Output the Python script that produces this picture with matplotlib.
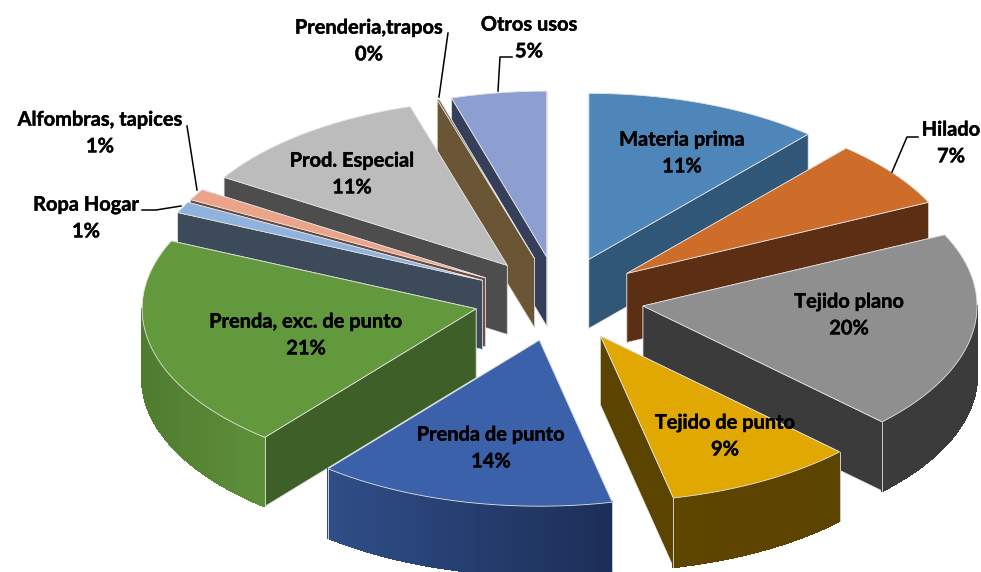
import numpy as np
import matplotlib
matplotlib.use('Agg')
import matplotlib.pyplot as plt
import matplotlib.patheffects as pe
from matplotlib.patches import Polygon
from matplotlib.colors import to_rgb

# datos: clockwise from the top, shares
names = ['Materia prima', 'Hilado', 'Tejido plano', 'Tejido de punto', 'Prenda de punto',
         'Prenda, exc. de punto', 'Ropa Hogar', 'Alfombras, tapices', 'Prod. Especial',
         'Prenderia,trapos', 'Otros usos']
shares = [11.4, 6.55, 19.35, 9.2, 14.4, 20.8, 1.1, 1.1, 11.4, 0.1, 4.6]
pct_labels = ['11%', '7%', '20%', '9%', '14%', '21%', '1%', '1%', '11%', '0%', '5%']

top_colors = ['#4F86B9', '#CE6D29', '#8F8F8F', '#E0A800', '#3A61A9', '#62993C',
              '#8FB3DC', '#EBA487', '#BCBCBC', '#6A5535', '#8D9FD1']
cut_colors = ['#305678', '#5C2F14', '#3B3B3B', '#5B4300', '#2C4A80', '#3E5F27',
              '#3C4A59', '#6D4A3D', '#4D4D4D', '#6A5535', '#353F59']
rim_left = ['#305678', '#5C2F14', '#3B3B3B', '#5E4500', '#2F4E88', '#4F7C30',
            '#3C4A59', '#6D4A3D', '#4D4D4D', '#6A5535', '#353F59']
rim_right = ['#305678', '#5C2F14', '#3B3B3B', '#5B4300', '#1C2E57', '#5E9039',
             '#3C4A59', '#6D4A3D', '#4D4D4D', '#6A5535', '#353F59']

label_pos = [(682, 153), (951, 143), (849, 315), (725, 436), (491, 448), (306, 335),
             (86, 218), (100, 133), (352, 174), (369, 41), (529, 38)]
leaders = [[(892, 172), (907, 137), (918, 137)],
           [(498, 91), (500, 57), (512, 57)],
           [(439, 97), (448, 33)],
           [(197, 190), (187, 126)],
           [(181, 206), (156, 210), (142, 210)]]

# pie geometry in pixels
cx, cy = 559, 299
rx, ry = 334, 166
depth = 69
explode = 0.255
edge = '#E4E4E4'


def point(a, deg):
    t = np.radians(deg)
    return a[0] + rx * np.sin(t), a[1] - ry * np.cos(t)


fig = plt.figure(figsize=(9.81, 5.72), dpi=100)
ax = fig.add_axes([0, 0, 1, 1])
ax.set_xlim(0, 981)
ax.set_ylim(572, 0)
ax.axis('off')

bounds = np.cumsum([0] + shares) / sum(shares) * 360


def back_dist(i):
    d = (bounds[i:i + 2].mean() + 10 + 180) % 360 - 180
    return abs(d)


# back slices first so the front ones cover their walls
for i in sorted(range(len(shares)), key=back_dist):
    a0, a1 = bounds[i], bounds[i + 1]
    mid = np.radians((a0 + a1) / 2)
    apex = (cx + explode * rx * np.sin(mid), cy - explode * ry * np.cos(mid))
    arc = np.linspace(a0, a1, max(int(a1 - a0) * 2, 2))
    rim = [point(apex, a) for a in arc]

    # cut faces
    faces = []
    for p in (rim[0], rim[-1]):
        faces.append([apex, p, (p[0], p[1] + depth), (apex[0], apex[1] + depth)])
    faces.sort(key=lambda f: f[1][1])
    for f in faces:
        ax.add_patch(Polygon(f, closed=True, fc=cut_colors[i], ec=edge, lw=0.5))

    # outer wall, front half only, in thin strips for the gradient
    lo, hi = max(a0, 90), min(a1, 270)
    if hi > lo:
        pts = [point(apex, a) for a in np.linspace(lo, hi, 61)]
        xs = [p[0] for p in pts]
        c1, c2 = np.array(to_rgb(rim_left[i])), np.array(to_rgb(rim_right[i]))
        for j in range(len(pts) - 1):
            p, q = pts[j], pts[j + 1]
            f = ((p[0] + q[0]) / 2 - min(xs)) / (max(xs) - min(xs))
            col = c1 + (c2 - c1) * f
            ax.add_patch(Polygon([p, q, (q[0], q[1] + depth), (p[0], p[1] + depth)], closed=True,
                                 fc=col, ec=col, lw=1.0, antialiased=False))
        # corner lines only where the wall really ends at a cut
        for a, p in ((lo, pts[0]), (hi, pts[-1])):
            if a in (a0, a1):
                ax.plot([p[0], p[0]], [p[1], p[1] + depth], color=edge, lw=0.6)

    ax.add_patch(Polygon([apex] + rim, closed=True, fc=top_colors[i], ec=edge, lw=0.6))

for i, name in enumerate(names):
    ax.text(label_pos[i][0], label_pos[i][1], name + '\n' + pct_labels[i], ha='center', va='center',
            family='Lato', weight='bold', fontsize=14.4, linespacing=1.42, color='black', zorder=5,
            path_effects=[pe.withStroke(linewidth=0.3, foreground='black')])

for line in leaders:
    ax.plot([p[0] for p in line], [p[1] for p in line], color='black', lw=1.1, zorder=4)

plt.savefig('out.png', dpi=100)
